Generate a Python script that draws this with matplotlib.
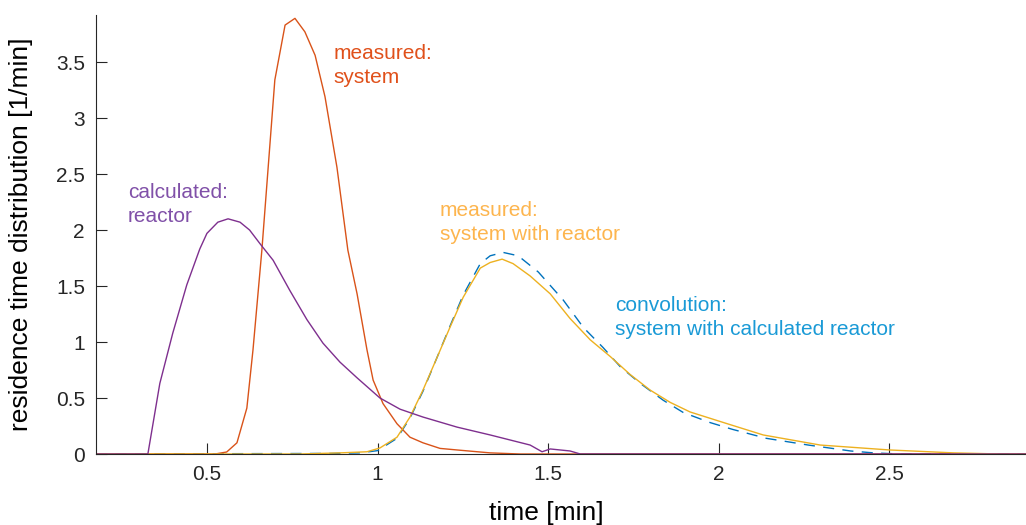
import numpy as np
import matplotlib
matplotlib.use("Agg")
from matplotlib import pyplot as plt

# calculated: reactor
x_reactor = [0.175, 0.327, 0.362, 0.400, 0.441, 0.479, 0.500, 0.532, 0.562, 0.597, 0.625,
             0.655, 0.694, 0.743, 0.793, 0.840, 0.890, 0.940, 1.007, 1.066, 1.133,
             1.233, 1.330, 1.447, 1.482, 1.506, 1.564, 1.594, 2.900]
y_reactor = [0.0, 0.0, 0.63, 1.08, 1.51, 1.83, 1.97, 2.07, 2.10, 2.07, 2.0,
             1.88, 1.73, 1.46, 1.20, 0.99, 0.82, 0.68, 0.50, 0.40, 0.33,
             0.24, 0.17, 0.08, 0.02, 0.045, 0.027, 0.0, 0.0]

# measured: system
x_system = [0.175, 0.524, 0.558, 0.588, 0.617, 0.635, 0.661, 0.699, 0.729, 0.758, 0.787,
            0.817, 0.846, 0.881, 0.913, 0.940, 0.969, 0.987, 1.016, 1.057, 1.095,
            1.133, 1.183, 1.233, 1.330, 1.418, 2.900]
y_system = [0.0, 0.0, 0.018, 0.10, 0.41, 0.93, 1.82, 3.34, 3.83, 3.89, 3.77,
            3.56, 3.19, 2.56, 1.82, 1.43, 0.93, 0.66, 0.45, 0.27, 0.15,
            0.10, 0.05, 0.036, 0.01, 0.0, 0.0]

# measured: system with reactor
x_sysreac = [0.175, 0.773, 0.890, 0.969, 1.007, 1.057, 1.095, 1.133, 1.174, 1.212, 1.251,
             1.301, 1.330, 1.365, 1.397, 1.447, 1.506, 1.564, 1.623, 1.682, 1.740,
             1.799, 1.858, 1.916, 2.025, 2.130, 2.297, 2.500, 2.688, 2.825, 2.900]
y_sysreac = [0.0, 0.0, 0.01, 0.02, 0.054, 0.15, 0.33, 0.57, 0.86, 1.13, 1.40,
             1.66, 1.71, 1.74, 1.70, 1.59, 1.43, 1.21, 1.02, 0.87, 0.71,
             0.57, 0.46, 0.375, 0.27, 0.17, 0.08, 0.036, 0.01, 0.0, 0.0]

# convolution: system with calculated reactor
x_conv = [0.175, 0.861, 0.949, 1.000, 1.057, 1.095, 1.133, 1.174, 1.212, 1.251, 1.301,
          1.330, 1.368, 1.412, 1.471, 1.544, 1.603, 1.661, 1.711, 1.770, 1.837,
          1.896, 1.975, 2.040, 2.139, 2.262, 2.386, 2.453, 2.530, 2.900]
y_conv = [0.0, 0.005, 0.01, 0.03, 0.14, 0.32, 0.56, 0.86, 1.14, 1.42, 1.70,
          1.77, 1.80, 1.77, 1.625, 1.375, 1.13, 0.95, 0.78, 0.63, 0.48,
          0.37, 0.28, 0.22, 0.14, 0.08, 0.027, 0.01, 0.0, 0.0]

xticks = [0.5, 1, 1.5, 2, 2.5]
yticks = [0, 0.5, 1, 1.5, 2, 2.5, 3, 3.5]

c_blue = "#0072BD"
c_orange = "#D95319"
c_yellow = "#EDB120"
c_purple = "#7E2F8E"

plt.rcParams['font.family'] = ['Liberation Sans', 'DejaVu Sans']

fig = plt.figure(figsize=(10.26, 5.25), dpi=100)
ax = fig.add_axes([96 / 1026, 1 - 454 / 525, 1 - 96 / 1026, (454 - 15) / 525])

ax.plot(x_conv, y_conv, color=c_blue, lw=1.0, dashes=(8, 6))
ax.plot(x_system, y_system, color=c_orange, lw=1.0)
ax.plot(x_sysreac, y_sysreac, color=c_yellow, lw=1.0)
ax.plot(x_reactor, y_reactor, color=c_purple, lw=1.0)

fs = 15
ls = 1.35
ax.text(0.872, 3.66, "measured:\nsystem", color="#E0501A", fontsize=fs, va="top", linespacing=ls)
ax.text(0.268, 2.42, "calculated:\nreactor", color="#8050A8", fontsize=fs, va="top", linespacing=ls)
ax.text(1.183, 2.26, "measured:\nsystem with reactor", color="#FDB54E", fontsize=fs, va="top", linespacing=ls)
ax.text(1.696, 1.41, "convolution:\nsystem with calculated reactor", color="#1A9AD6", fontsize=fs,
        va="top", linespacing=ls)

ax.set_xlim(0.175, 2.9)
ax.set_ylim(0, 3.92)
ax.set_xticks(xticks)
ax.set_xticklabels(["0.5", "1", "1.5", "2", "2.5"])
ax.set_yticks(yticks)
ax.set_yticklabels(["0", "0.5", "1", "1.5", "2", "2.5", "3", "3.5"])
ax.tick_params(direction="in", length=8, width=0.8, colors="#262626", labelsize=15, pad=8)
ax.tick_params(axis="x", pad=8)

for s in ["top", "right"]:
    ax.spines[s].set_visible(False)
for s in ["left", "bottom"]:
    ax.spines[s].set_color("#262626")
    ax.spines[s].set_linewidth(0.8)

ax.set_xlabel("time [min]", fontsize=19)
ax.set_ylabel("residence time distribution [1/min]", fontsize=19)
ax.xaxis.set_label_coords(0.484, -0.108)
ax.yaxis.set_label_coords(-0.068, 0.5)

fig.savefig("out.png", dpi=100)
